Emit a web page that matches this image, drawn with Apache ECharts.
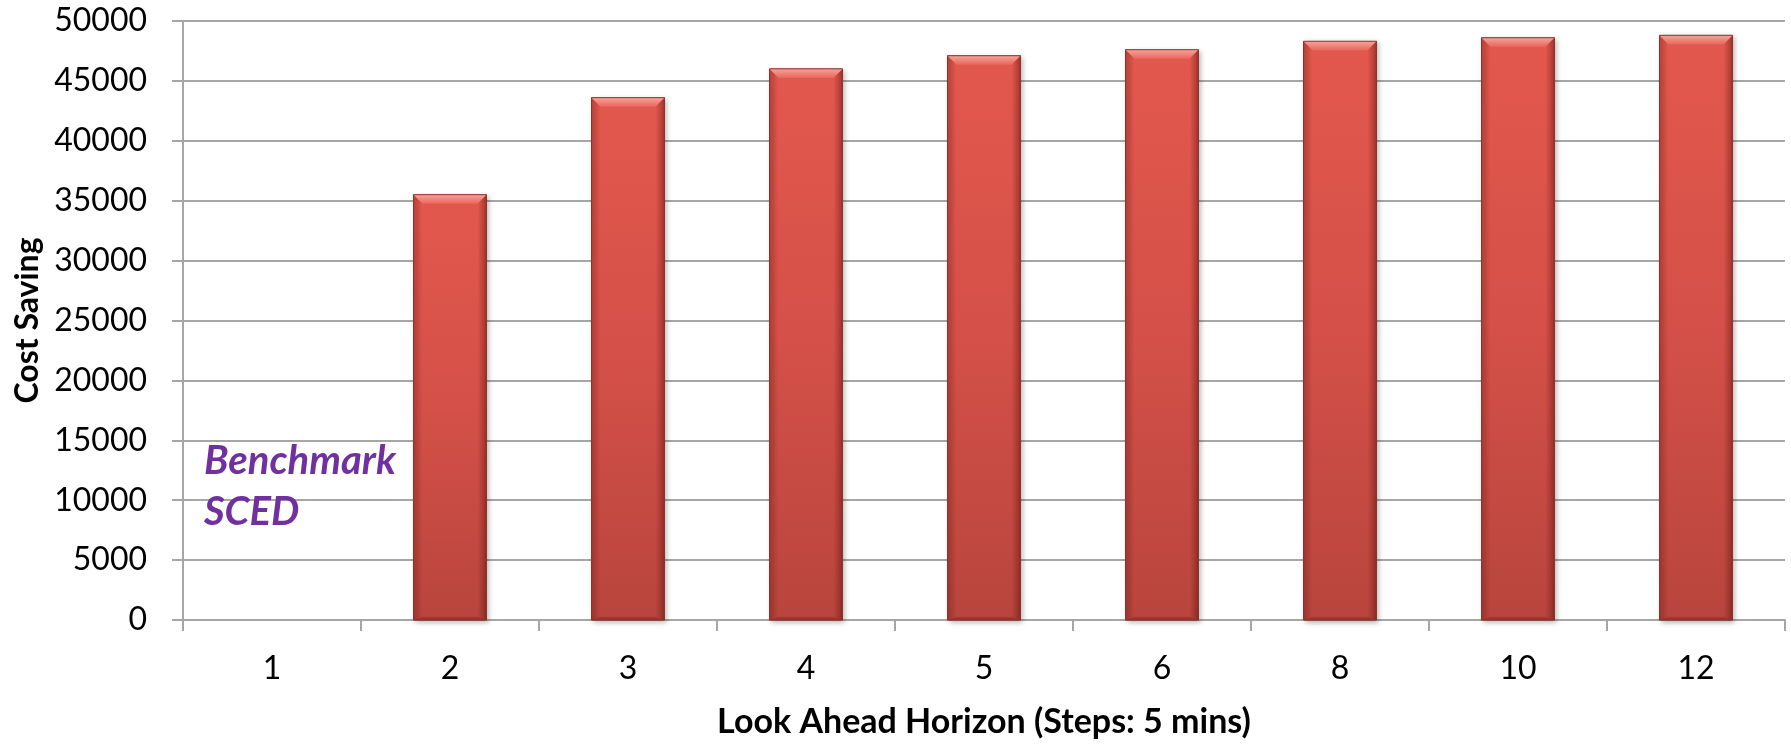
<!DOCTYPE html>
<html>
<head>
<meta charset="utf-8">
<title>Cost Saving vs Look Ahead Horizon</title>
<script src="https://cdn.jsdelivr.net/npm/echarts@6/dist/echarts.min.js"></script>
<style>
  html, body { margin: 0; padding: 0; background: #ffffff; }
  #chart { width: 1791px; height: 744px; }
</style>
</head>
<body>
<div id="chart"></div>
<script>
// Look-ahead horizon steps (5 minutes each) and resulting cost saving
const horizons = ['1', '2', '3', '4', '5', '6', '8', '10', '12'];
const costSaving = [0, 35500, 43600, 46000, 47100, 47600, 48300, 48600, 48800];

const FONT = 'Lato, "Open Sans", sans-serif';
const GRID_GRAY = '#A6A6A6';

const chart = echarts.init(document.getElementById('chart'), null, { renderer: 'canvas' });

// Bevelled column: gradient body, light top facet, darker side/bottom facets
function renderBevelBar(params, api) {
  const idx = api.value(0);
  const v = api.value(1);
  if (!v) return null;
  const top = api.coord([idx, v]);
  const base = api.coord([idx, 0]);
  const w = api.size([1, 0])[0] * 0.41;
  const x = top[0] - w / 2;
  const y = top[1];
  const h = base[1] - top[1];
  const b = 9;
  return {
    type: 'group',
    children: [
      {
        type: 'rect',
        shape: { x: x, y: y, width: w, height: h },
        style: {
          fill: new echarts.graphic.LinearGradient(0, 0, 0, 1, [
            { offset: 0, color: '#E3584D' },
            { offset: 0.5, color: '#D45048' },
            { offset: 1, color: '#B8453D' }
          ]),
          stroke: '#9A3B34',
          lineWidth: 1,
          shadowBlur: 5,
          shadowOffsetX: 2,
          shadowOffsetY: 2,
          shadowColor: 'rgba(0,0,0,0.3)'
        }
      },
      {
        type: 'polygon',
        shape: { points: [[x, y], [x + w, y], [x + w - b, y + b], [x + b, y + b]] },
        style: {
          fill: new echarts.graphic.LinearGradient(0, 0, 0, 1, [
            { offset: 0, color: '#F7A39B' },
            { offset: 1, color: '#E8675C' }
          ])
        }
      },
      {
        type: 'polygon',
        shape: { points: [[x, y], [x + b, y + b], [x + b, y + h - 3], [x, y + h]] },
        style: {
          fill: new echarts.graphic.LinearGradient(0, 0, 1, 0, [
            { offset: 0, color: 'rgba(110,25,20,0.30)' },
            { offset: 1, color: 'rgba(110,25,20,0)' }
          ])
        }
      },
      {
        type: 'polygon',
        shape: { points: [[x + w, y], [x + w - b, y + b], [x + w - b, y + h - 3], [x + w, y + h]] },
        style: {
          fill: new echarts.graphic.LinearGradient(1, 0, 0, 0, [
            { offset: 0, color: 'rgba(90,15,10,0.45)' },
            { offset: 1, color: 'rgba(90,15,10,0)' }
          ])
        }
      },
      {
        type: 'polygon',
        shape: { points: [[x, y + h], [x + w, y + h], [x + w - b, y + h - 3], [x + b, y + h - 3]] },
        style: { fill: 'rgba(120,30,25,0.35)' }
      },
      {
        type: 'rect',
        shape: { x: x, y: y, width: w, height: h },
        style: { fill: 'none', stroke: 'rgba(140,50,45,0.8)', lineWidth: 1 }
      }
    ]
  };
}

const option = {
  backgroundColor: '#ffffff',
  animation: false,
  grid: { left: 183, right: 6, top: 21, bottom: 122, containLabel: false },
  xAxis: {
    type: 'category',
    data: horizons,
    name: 'Look Ahead Horizon (Steps: 5 mins)',
    nameLocation: 'middle',
    nameGap: 85,
    nameTextStyle: { fontFamily: FONT, fontWeight: 'bold', fontSize: 34, color: '#000' },
    axisLine: { lineStyle: { color: GRID_GRAY, width: 2 } },
    axisTick: { show: true, length: 11, lineStyle: { color: GRID_GRAY, width: 2 } },
    axisLabel: { fontFamily: FONT, fontSize: 32, color: '#000', margin: 33 },
    splitLine: { show: false }
  },
  yAxis: {
    type: 'value',
    min: 0,
    max: 50000,
    interval: 5000,
    name: 'Cost Saving',
    nameLocation: 'middle',
    nameRotate: 90,
    nameGap: 138,
    nameTextStyle: { fontFamily: FONT, fontWeight: 'bold', fontSize: 32, color: '#000' },
    axisLine: { show: true, lineStyle: { color: GRID_GRAY, width: 2 } },
    axisTick: { show: true, length: 11, lineStyle: { color: GRID_GRAY, width: 2 } },
    axisLabel: {
      fontFamily: FONT, fontSize: 32, color: '#000', margin: 36,
      formatter: (val) => String(val)
    },
    splitLine: { show: true, lineStyle: { color: GRID_GRAY, width: 2 } }
  },
  series: [{
    type: 'custom',
    renderItem: renderBevelBar,
    encode: { x: 0, y: 1 },
    data: horizons.map((h, i) => [i, costSaving[i]]),
    z: 3
  }],
  graphic: [{
    type: 'text',
    left: 204,
    top: 436,
    z: 10,
    style: {
      text: 'Benchmark\nSCED',
      fontFamily: FONT,
      fontWeight: 'bold',
      fontStyle: 'italic',
      fontSize: 40,
      lineHeight: 51,
      fill: '#7030A0'
    }
  }]
};

chart.setOption(option);
</script>
</body>
</html>
